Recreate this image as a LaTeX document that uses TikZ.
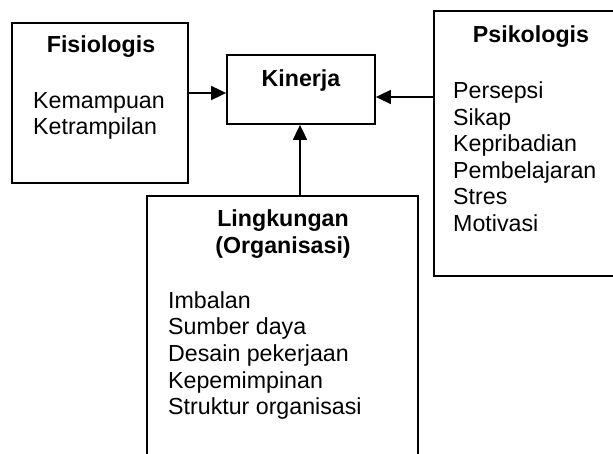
\documentclass[tikz,border=0pt]{standalone}
\usepackage{fontspec}
\setmainfont{Liberation Sans}
\usetikzlibrary{arrows.meta}
\begin{document}
\begin{tikzpicture}[x=1pt,y=1pt,
  boxstyle/.style={draw=black,line width=1.8pt,fill=none,inner sep=0pt},
  txt/.style={inner sep=0pt,anchor=base west,font=\fontsize{23.2}{21}\selectfont},
  head/.style={inner sep=0pt,anchor=base,font=\fontsize{23.2}{21}\selectfont\bfseries},
  arr/.style={line width=1.8pt,-{Triangle[length=15pt,width=14pt]}}]
\useasboundingbox (0,0) rectangle (613,453);
\clip (0,0) rectangle (613,453);
% boxes
\node[boxstyle,minimum width=176pt,minimum height=160pt] (fis) at (100,350) {};
\node[boxstyle,minimum width=148pt,minimum height=69pt] (kin) at (301,363.5) {};
\node[boxstyle,minimum width=196pt,minimum height=265pt] (psi) at (532,309.5) {};
\node[boxstyle,minimum width=271pt,minimum height=267pt] (lin) at (282.5,123.5) {};
% headings
\node[head] (fish) at (101,400) {Fisiologis};
\node[head] (kinh) at (301,366) {Kinerja};
\node[head] (psih) at (531,410) {Psikologis};
\node[head] (linh1) at (283,226) {Lingkungan};
\node[head] (linh2) at (283,200) {(Organisasi)};
% Fisiologis list
\node[txt] (fis1) at (33,344.5) {Kemampuan};
\node[txt] (fis2) at (33,318) {Ketrampilan};
% Psikologis list
\node[txt] (psi1) at (453,354) {Persepsi};
\node[txt] (psi2) at (453,327.5) {Sikap};
\node[txt] (psi3) at (453,301) {Kepribadian};
\node[txt] (psi4) at (453,274.5) {Pembelajaran};
\node[txt] (psi5) at (453,248) {Stres};
\node[txt] (psi6) at (453,221.5) {Motivasi};
% Lingkungan list
\node[txt] (lin1) at (168,145) {Imbalan};
\node[txt] (lin2) at (168,118.3) {Sumber daya};
\node[txt] (lin3) at (168,91.6) {Desain pekerjaan};
\node[txt] (lin4) at (168,64.9) {Kepemimpinan};
\node[txt] (lin5) at (168,38.2) {Struktur organisasi};
% connectors
\draw[arr] (fis.east |- 0,360) -- (kin.west |- 0,360);
\draw[arr] (psi.west |- 0,356) -- (kin.east |- 0,356);
\draw[arr] (lin.north -| 300,0) -- (kin.south -| 300,0);
\end{tikzpicture}
\end{document}
